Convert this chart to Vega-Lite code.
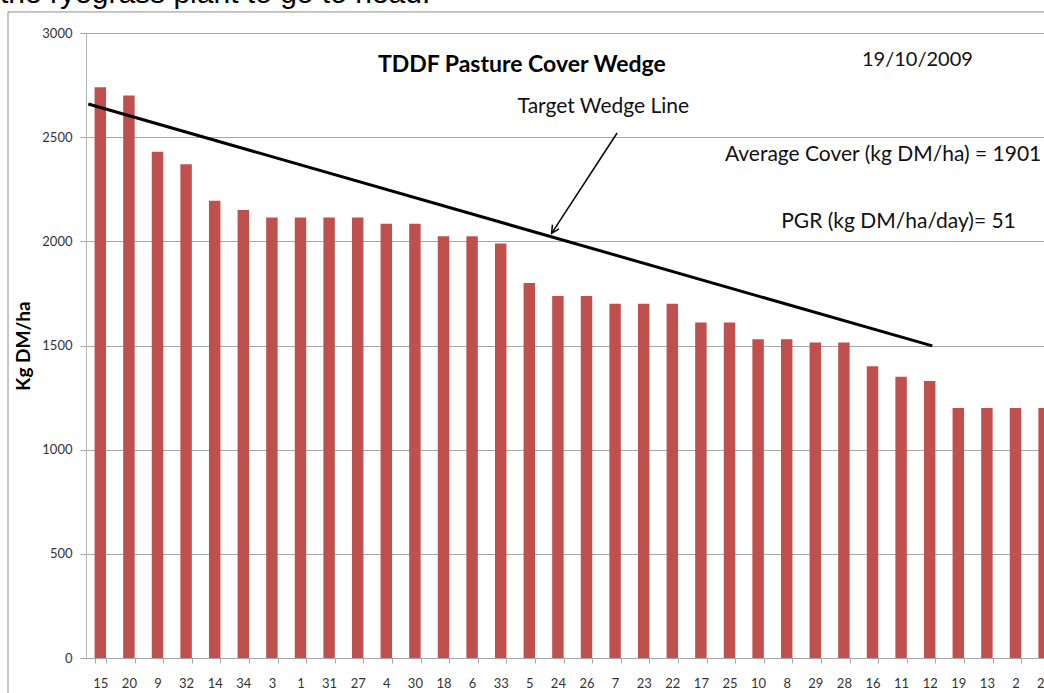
{
  "$schema": "https://vega.github.io/schema/vega-lite/v6.json",
  "width": 958,
  "height": 625,
  "autosize": {"type": "none"},
  "padding": {"left": 86, "top": 33, "right": 0, "bottom": 35},
  "background": "white",
  "config": {"view": {"stroke": null}, "font": "Lato"},
  "resolve": {"scale": {"x": "independent"}},
  "layer": [
    {
      "data": {"values": [
        {"paddock": "15", "cover": 2740},
        {"paddock": "20", "cover": 2700},
        {"paddock": "9", "cover": 2430},
        {"paddock": "32", "cover": 2370},
        {"paddock": "14", "cover": 2195},
        {"paddock": "34", "cover": 2150},
        {"paddock": "3", "cover": 2115},
        {"paddock": "1", "cover": 2115},
        {"paddock": "31", "cover": 2115},
        {"paddock": "27", "cover": 2115},
        {"paddock": "4", "cover": 2085},
        {"paddock": "30", "cover": 2085},
        {"paddock": "18", "cover": 2025},
        {"paddock": "6", "cover": 2025},
        {"paddock": "33", "cover": 1990},
        {"paddock": "5", "cover": 1800},
        {"paddock": "24", "cover": 1738},
        {"paddock": "26", "cover": 1738},
        {"paddock": "7", "cover": 1700},
        {"paddock": "23", "cover": 1700},
        {"paddock": "22", "cover": 1700},
        {"paddock": "17", "cover": 1610},
        {"paddock": "25", "cover": 1610},
        {"paddock": "10", "cover": 1530},
        {"paddock": "8", "cover": 1530},
        {"paddock": "29", "cover": 1515},
        {"paddock": "28", "cover": 1515},
        {"paddock": "16", "cover": 1400},
        {"paddock": "11", "cover": 1350},
        {"paddock": "12", "cover": 1330},
        {"paddock": "19", "cover": 1200},
        {"paddock": "13", "cover": 1200},
        {"paddock": "2", "cover": 1200},
        {"paddock": "21", "cover": 1200}
      ]},
      "mark": {"type": "bar", "color": "#c0504d"},
      "encoding": {
        "x": {
          "field": "paddock", "type": "nominal", "sort": null,
          "scale": {"range": [0, 972.4], "paddingInner": 0.6, "paddingOuter": 0.3},
          "axis": {
            "title": null, "labelAngle": 0, "tickBand": "extent", "tickSize": 5,
            "tickColor": "#a6a6a6", "domainColor": "#a6a6a6", "labelPadding": 14,
            "labelFontSize": 13, "labelColor": "#333333", "labelFont": "Lato"
          }
        },
        "y": {
          "field": "cover", "type": "quantitative",
          "scale": {"domain": [0, 3000], "nice": false},
          "title": "Kg DM/ha",
          "axis": {
            "values": [0, 500, 1000, 1500, 2000, 2500, 3000], "format": "d",
            "grid": true, "gridColor": "#a6a6a6", "gridWidth": 1,
            "tickSize": 6, "tickColor": "#a6a6a6", "domainColor": "#b3b3b3",
            "labelPadding": 8, "labelFontSize": 13, "labelColor": "#333333", "labelFont": "Lato",
            "titleFontSize": 19, "titleFontWeight": "bold", "titleColor": "#000000", "titleFont": "Lato",
            "titlePadding": 8
          }
        }
      }
    },
    {
      "data": {"values": [
        {"x1": -2.727, "y1": 3101, "x2": -2.727, "y2": -400},
        {"x1": -2.727, "y1": 3101, "x2": 40, "y2": 3101}
      ]},
      "mark": {"type": "rule", "color": "#8c8c8c", "strokeWidth": 1},
      "encoding": {
        "x": {"field": "x1", "type": "quantitative", "scale": {"domain": [0, 34], "range": [0, 972.4]}, "axis": null},
        "x2": {"field": "x2"},
        "y": {"field": "y1", "type": "quantitative", "scale": {"domain": [0, 3000], "nice": false}, "title": "Kg DM/ha",
          "axis": {
            "values": [0, 500, 1000, 1500, 2000, 2500, 3000], "format": "d",
            "grid": true, "gridColor": "#a6a6a6", "gridWidth": 1,
            "tickSize": 6, "tickColor": "#a6a6a6", "domainColor": "#b3b3b3",
            "labelPadding": 8, "labelFontSize": 13, "labelColor": "#333333", "labelFont": "Lato",
            "titleFontSize": 19, "titleFontWeight": "bold", "titleColor": "#000000", "titleFont": "Lato",
            "titlePadding": 8
          }},
        "y2": {"field": "y2"}
      }
    },
    {
      "data": {"values": [
        {"pos": 0.08, "target": 2659},
        {"pos": 29.59, "target": 1498}
      ]},
      "mark": {"type": "line", "color": "#000000", "strokeWidth": 3},
      "encoding": {
        "x": {"field": "pos", "type": "quantitative", "scale": {"domain": [0, 34], "range": [0, 972.4]}, "axis": null},
        "y": {"field": "target", "type": "quantitative", "scale": {"domain": [0, 3000], "nice": false}, "title": "Kg DM/ha",
          "axis": {
            "values": [0, 500, 1000, 1500, 2000, 2500, 3000], "format": "d",
            "grid": true, "gridColor": "#a6a6a6", "gridWidth": 1,
            "tickSize": 6, "tickColor": "#a6a6a6", "domainColor": "#b3b3b3",
            "labelPadding": 8, "labelFontSize": 13, "labelColor": "#333333", "labelFont": "Lato",
            "titleFontSize": 19, "titleFontWeight": "bold", "titleColor": "#000000", "titleFont": "Lato",
            "titlePadding": 8
          }}
      }
    },
    {
      "data": {"values": [
        {"x1": 18.57, "y1": 2520, "x2": 16.28, "y2": 2038}
      ]},
      "mark": {"type": "rule", "color": "#000000", "strokeWidth": 1.5},
      "encoding": {
        "x": {"field": "x1", "type": "quantitative", "scale": {"domain": [0, 34], "range": [0, 972.4]}, "axis": null},
        "x2": {"field": "x2"},
        "y": {"field": "y1", "type": "quantitative", "scale": {"domain": [0, 3000], "nice": false}, "title": "Kg DM/ha",
          "axis": {
            "values": [0, 500, 1000, 1500, 2000, 2500, 3000], "format": "d",
            "grid": true, "gridColor": "#a6a6a6", "gridWidth": 1,
            "tickSize": 6, "tickColor": "#a6a6a6", "domainColor": "#b3b3b3",
            "labelPadding": 8, "labelFontSize": 13, "labelColor": "#333333", "labelFont": "Lato",
            "titleFontSize": 19, "titleFontWeight": "bold", "titleColor": "#000000", "titleFont": "Lato",
            "titlePadding": 8
          }},
        "y2": {"field": "y2"}
      }
    },
    {
      "data": {"values": [
        {"x": 16.28, "y": 2038}
      ]},
      "mark": {"type": "point", "shape": "M-0.45,0.9L0,0L0.45,0.9", "filled": false, "stroke": "#000000", "strokeWidth": 1.5, "size": 300, "angle": 212, "opacity": 1},
      "encoding": {
        "x": {"field": "x", "type": "quantitative", "scale": {"domain": [0, 34], "range": [0, 972.4]}, "axis": null},
        "y": {"field": "y", "type": "quantitative", "scale": {"domain": [0, 3000], "nice": false}, "title": "Kg DM/ha",
          "axis": {
            "values": [0, 500, 1000, 1500, 2000, 2500, 3000], "format": "d",
            "grid": true, "gridColor": "#a6a6a6", "gridWidth": 1,
            "tickSize": 6, "tickColor": "#a6a6a6", "domainColor": "#b3b3b3",
            "labelPadding": 8, "labelFontSize": 13, "labelColor": "#333333", "labelFont": "Lato",
            "titleFontSize": 19, "titleFontWeight": "bold", "titleColor": "#000000", "titleFont": "Lato",
            "titlePadding": 8
          }}
      }
    },
    {
      "data": {"values": [
        {"x": 15.24, "y": 2846, "label": "TDDF Pasture Cover Wedge"}
      ]},
      "mark": {"type": "text", "font": "Lato", "fontWeight": "bold", "fontSize": 23, "align": "center", "baseline": "middle", "color": "#000000"},
      "encoding": {
        "x": {"field": "x", "type": "quantitative", "scale": {"domain": [0, 34], "range": [0, 972.4]}, "axis": null},
        "y": {"field": "y", "type": "quantitative", "scale": {"domain": [0, 3000], "nice": false}, "title": "Kg DM/ha",
          "axis": {
            "values": [0, 500, 1000, 1500, 2000, 2500, 3000], "format": "d",
            "grid": true, "gridColor": "#a6a6a6", "gridWidth": 1,
            "tickSize": 6, "tickColor": "#a6a6a6", "domainColor": "#b3b3b3",
            "labelPadding": 8, "labelFontSize": 13, "labelColor": "#333333", "labelFont": "Lato",
            "titleFontSize": 19, "titleFontWeight": "bold", "titleColor": "#000000", "titleFont": "Lato",
            "titlePadding": 8
          }},
        "text": {"field": "label"}
      }
    },
    {
      "data": {"values": [
        {"x": 29.07, "y": 2870, "label": "19/10/2009"}
      ]},
      "mark": {"type": "text", "font": "Lato", "fontSize": 20, "align": "center", "baseline": "middle", "color": "#111111"},
      "encoding": {
        "x": {"field": "x", "type": "quantitative", "scale": {"domain": [0, 34], "range": [0, 972.4]}, "axis": null},
        "y": {"field": "y", "type": "quantitative", "scale": {"domain": [0, 3000], "nice": false}, "title": "Kg DM/ha",
          "axis": {
            "values": [0, 500, 1000, 1500, 2000, 2500, 3000], "format": "d",
            "grid": true, "gridColor": "#a6a6a6", "gridWidth": 1,
            "tickSize": 6, "tickColor": "#a6a6a6", "domainColor": "#b3b3b3",
            "labelPadding": 8, "labelFontSize": 13, "labelColor": "#333333", "labelFont": "Lato",
            "titleFontSize": 19, "titleFontWeight": "bold", "titleColor": "#000000", "titleFont": "Lato",
            "titlePadding": 8
          }},
        "text": {"field": "label"}
      }
    },
    {
      "data": {"values": [
        {"x": 18.09, "y": 2645, "label": "Target Wedge Line"},
        {"x": 27.87, "y": 2414, "label": "Average Cover (kg DM/ha) = 1901"},
        {"x": 28.41, "y": 2093, "label": "PGR  (kg DM/ha/day)= 51"}
      ]},
      "mark": {"type": "text", "font": "Lato", "fontSize": 21, "align": "center", "baseline": "middle", "color": "#111111"},
      "encoding": {
        "x": {"field": "x", "type": "quantitative", "scale": {"domain": [0, 34], "range": [0, 972.4]}, "axis": null},
        "y": {"field": "y", "type": "quantitative", "scale": {"domain": [0, 3000], "nice": false}, "title": "Kg DM/ha",
          "axis": {
            "values": [0, 500, 1000, 1500, 2000, 2500, 3000], "format": "d",
            "grid": true, "gridColor": "#a6a6a6", "gridWidth": 1,
            "tickSize": 6, "tickColor": "#a6a6a6", "domainColor": "#b3b3b3",
            "labelPadding": 8, "labelFontSize": 13, "labelColor": "#333333", "labelFont": "Lato",
            "titleFontSize": 19, "titleFontWeight": "bold", "titleColor": "#000000", "titleFont": "Lato",
            "titlePadding": 8
          }},
        "text": {"field": "label"}
      }
    },
    {
      "data": {"values": [
        {"x": -3.007, "y": 3144, "label": "the ryegrass plant to go to head."}
      ]},
      "mark": {"type": "text", "font": "Liberation Sans", "fontSize": 30, "align": "left", "baseline": "alphabetic", "color": "#000000"},
      "encoding": {
        "x": {"field": "x", "type": "quantitative", "scale": {"domain": [0, 34], "range": [0, 972.4]}, "axis": null},
        "y": {"field": "y", "type": "quantitative", "scale": {"domain": [0, 3000], "nice": false}, "title": "Kg DM/ha",
          "axis": {
            "values": [0, 500, 1000, 1500, 2000, 2500, 3000], "format": "d",
            "grid": true, "gridColor": "#a6a6a6", "gridWidth": 1,
            "tickSize": 6, "tickColor": "#a6a6a6", "domainColor": "#b3b3b3",
            "labelPadding": 8, "labelFontSize": 13, "labelColor": "#333333", "labelFont": "Lato",
            "titleFontSize": 19, "titleFontWeight": "bold", "titleColor": "#000000", "titleFont": "Lato",
            "titlePadding": 8
          }},
        "text": {"field": "label"}
      }
    }
  ]
}
